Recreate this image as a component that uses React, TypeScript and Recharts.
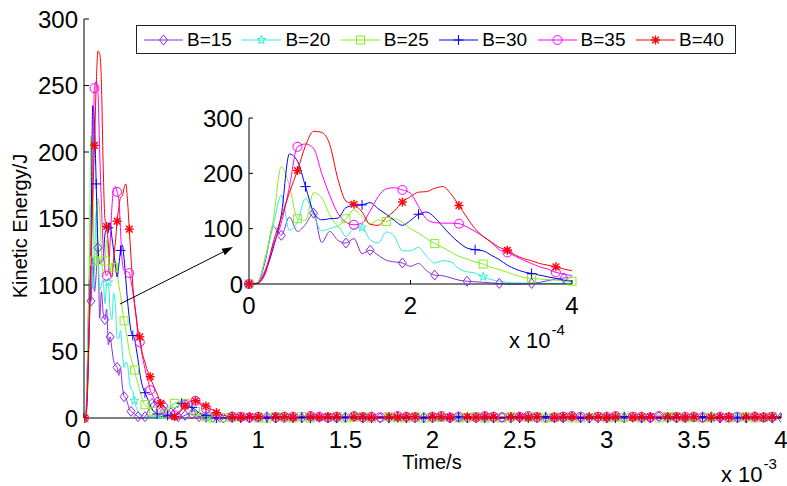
import React from "react";
import { LineChart, Line, XAxis, YAxis } from "recharts";

const FONT = "Arial, 'Liberation Sans', Helvetica, sans-serif";

// time grids in ms: fine head (inset range), medium middle, coarse tail
const grid = (start: number, step: number, n: number) =>
  Array.from({ length: n }, (_, i) => +(start + i * step).toFixed(3));
const T_HEAD = grid(0, 0.01, 41);
const T_MID = grid(0.42, 0.02, 20);
const T_TAIL = grid(0.85, 0.05, 64);

const X_TICKS = [0, 0.5, 1, 1.5, 2, 2.5, 3, 3.5, 4];
const Y_TICKS = [0, 50, 100, 150, 200, 250, 300];
const INSET_X_TICKS = [0, 0.2, 0.4];
const INSET_Y_TICKS = [0, 100, 200, 300];

// kinetic energy (J), head: 0..0.40 ms every 0.01 ms
const B15_HEAD = [
  0, 1, 40, 104, 88, 121, 95, 108, 128, 75,
  95, 79, 74, 82, 55, 61, 52, 43, 40, 38,
  32, 37, 24, 16, 15, 11, 7, 5, 4, 3,
  2, 1, 0, 0, 0, 1, 3, 6, 9, 11,
  12,
];
const B20_HEAD = [
  0, 2, 45, 105, 160, 97, 112, 155, 125, 96,
  100, 104, 86, 100, 102, 80, 74, 94, 86, 60,
  60, 66, 50, 38, 42, 40, 28, 22, 20, 13,
  8, 5, 3, 2, 2, 1, 1, 1, 1, 1,
  1,
];
const B25_HEAD = [
  0, 2, 48, 115, 212, 178, 118, 115, 165, 156,
  125, 106, 118, 134, 122, 108, 116, 113, 118, 112,
  100, 92, 82, 73, 66, 58, 50, 45, 40, 36,
  30, 26, 21, 16, 12, 10, 9, 8, 7, 6,
  5,
];
const B30_HEAD = [
  0, 1, 22, 65, 125, 235, 222, 176, 130, 116,
  118, 119, 138, 142, 143, 147, 136, 126, 115, 106,
  115, 126, 130, 120, 104, 88, 75, 65, 62, 60,
  52, 44, 34, 27, 22, 19, 16, 13, 10, 7,
  5,
];
const B35_HEAD = [
  0, 1, 25, 70, 110, 175, 248, 253, 245, 200,
  160, 128, 112, 107, 110, 132, 158, 172, 174, 170,
  164, 140, 117, 111, 110, 110, 109, 103, 95, 86,
  75, 62, 57, 50, 43, 37, 31, 27, 21, 18,
  15,
];
const B40_HEAD = [
  0, 1, 18, 75, 120, 165, 205, 250, 276, 274,
  252, 190, 150, 144, 130, 108, 106, 120, 132, 148,
  158, 166, 167, 173, 176, 163, 142, 120, 100, 86,
  76, 66, 61, 52, 46, 42, 37, 34, 31, 27,
  24,
];

// 0.42..0.80 ms every 0.02 ms
const B15_MID = [12, 11, 9, 6, 4, 2, 1, 1, 2, 3, 3, 2, 1, 1, 0.5, 0, 0.5, 1, 0.5, 0];
const B20_MID = [1, 2, 4, 7, 9, 11, 12, 12, 11, 9, 7, 5, 3, 2, 1, 1, 0.5, 0, 0.5, 0];
const B25_MID = [4, 3, 3, 5, 8, 11, 12, 12, 11, 9, 7, 5, 3, 2, 1, 0.5, 0, 0.5, 0, 0.5];
const B30_MID = [3, 1, 1, 2, 4, 7, 9, 11, 11, 10, 8, 6, 4, 3, 2, 1, 0.5, 0, 0.5, 0];
const B35_MID = [10, 6, 3, 1, 1, 2, 4, 7, 10, 12, 13, 13, 11, 9, 7, 5, 3, 2, 1, 0];
const B40_MID = [18, 11, 5, 2, 1, 1, 3, 6, 9, 11, 13, 13, 12, 10, 9, 7, 6, 4, 3, 2];

// 0.85..4.00 ms every 0.05 ms
const B15_TAIL = [
  1, 0.5, 0, 0.5, 1, 0, 0, 0.5,
  0, 1, 0.5, 0, 0, 0.5, 1, 0,
  0.5, 0, 0, 1, 0.5, 0, 0.5, 0,
  1, 0, 0.5, 0, 0, 1, 0, 0.5,
  0, 0.5, 1, 0, 0, 0.5, 0, 1,
  0.5, 0, 0, 0.5, 1, 0, 0.5, 0,
  0, 1, 0.5, 0, 0, 0.5, 0, 1,
  0, 0.5, 0, 0, 1, 0.5, 0, 0.5,
];
const B20_TAIL = [
  0, 0.5, 1, 0, 0.5, 0, 1, 0,
  0.5, 0, 0, 1, 0, 0.5, 0, 0.5,
  1, 0, 0.5, 0, 0, 0.5, 1, 0,
  0, 0.5, 0, 1, 0.5, 0, 0, 1,
  0.5, 0, 0.5, 0, 1, 0, 0, 0.5,
  0, 1, 0.5, 0, 0, 1, 0, 0.5,
  1, 0, 0, 0.5, 0.5, 0, 1, 0,
  0.5, 0, 1, 0.5, 0, 0, 0.5, 1,
];
const B25_TAIL = [
  0.5, 1, 0.5, 0, 0, 1, 0.5, 0,
  1, 0, 0, 0.5, 1, 0, 0.5, 1,
  0, 0.5, 1, 0, 0, 1, 0, 0.5,
  0.5, 1, 0, 0.5, 1, 0, 0.5, 0,
  1, 0, 0.5, 1, 0, 0.5, 1, 0,
  0, 0.5, 1, 0, 0.5, 0.5, 1, 0,
  0.5, 0, 1, 1, 0, 0.5, 0, 0.5,
  1, 0, 0.5, 1, 0, 0.5, 1, 0,
];
const B30_TAIL = [
  0, 0, 0.5, 1, 0, 0, 0.5, 0,
  0.5, 0, 1, 0, 0, 0.5, 0, 0,
  0, 1, 0, 0.5, 0, 0, 0, 0.5,
  0, 0, 1, 0, 0.5, 0, 0, 0,
  0.5, 0, 0, 0, 1, 0, 0.5, 0,
  0, 0, 0.5, 0, 0, 1, 0, 0,
  0.5, 0, 0, 0, 0.5, 0, 1, 0,
  0, 0.5, 0, 0, 0, 0.5, 0, 0,
];
const B35_TAIL = [
  1, 1, 0.5, 1, 1.5, 0.5, 1, 1,
  0.5, 1.5, 1, 0.5, 1, 1, 1.5, 0.5,
  1, 0.5, 1, 1.5, 1, 0.5, 1, 1,
  1.5, 0.5, 1, 1, 0.5, 1.5, 1, 0.5,
  1, 1, 1.5, 0.5, 1, 0.5, 1, 1.5,
  1, 0.5, 1, 1, 1.5, 0.5, 1, 1,
  0.5, 1.5, 1, 0.5, 1, 1, 0.5, 1.5,
  1, 0.5, 1, 1.5, 1, 0.5, 1, 1,
];
const B40_TAIL = [
  1, 0.5, 1, 1, 0.5, 1, 1, 0.5,
  1, 1, 0.5, 1, 1, 0.5, 1, 1,
  0.5, 1, 1, 0.5, 1, 1, 0.5, 1,
  1, 0.5, 1, 1, 0.5, 1, 1, 0.5,
  1, 1, 0.5, 1, 1, 0.5, 1, 1,
  0.5, 1, 1, 0.5, 1, 1, 0.5, 1,
  1, 0.5, 1, 1, 0.5, 1, 1, 0.5,
  1, 1, 0.5, 1, 1, 0.5, 1, 1,
];

const TIMES = [...T_HEAD, ...T_MID, ...T_TAIL];

type MarkerKind = "diamond" | "star" | "square" | "plus" | "circle" | "asterisk";
interface Series {
  key: string;
  name: string;
  color: string;
  marker: MarkerKind;
  spacing: number; // ms between markers (MATLAB-style)
  values: number[];
}

const SERIES: Series[] = [
  { key: "b15", name: "B=15", color: "#8B2BE2", marker: "diamond", spacing: 0.0386, values: [...B15_HEAD, ...B15_MID, ...B15_TAIL] },
  { key: "b20", name: "B=20", color: "#2CEFD8", marker: "star", spacing: 0.145, values: [...B20_HEAD, ...B20_MID, ...B20_TAIL] },
  { key: "b25", name: "B=25", color: "#88EE22", marker: "square", spacing: 0.0575, values: [...B25_HEAD, ...B25_MID, ...B25_TAIL] },
  { key: "b30", name: "B=30", color: "#0000FF", marker: "plus", spacing: 0.0693, values: [...B30_HEAD, ...B30_MID, ...B30_TAIL] },
  { key: "b35", name: "B=35", color: "#FF00FF", marker: "circle", spacing: 0.0638, values: [...B35_HEAD, ...B35_MID, ...B35_TAIL] },
  { key: "b40", name: "B=40", color: "#FF0000", marker: "asterisk", spacing: 0.064, values: [...B40_HEAD, ...B40_MID, ...B40_TAIL] },
];

const rows = TIMES.map((t, i) => {
  const r: Record<string, number> = { t };
  SERIES.forEach((s) => (r[s.key] = s.values[i]));
  return r;
});
const insetRows = rows.filter((r) => r.t <= 0.4 + 1e-9);

// indices of the grid points nearest to every multiple of the marker spacing
const markIndex = (spacing: number) => {
  const set = new Set<number>();
  for (let k = 0; k * spacing <= 4.0001; k++) {
    const target = k * spacing;
    let best = 0;
    TIMES.forEach((t, i) => {
      if (Math.abs(t - target) < Math.abs(TIMES[best] - target)) best = i;
    });
    set.add(best);
  }
  return set;
};
const MARKS: Record<string, Set<number>> = {};
SERIES.forEach((s) => (MARKS[s.key] = markIndex(s.spacing)));

const Marker = ({ kind, cx, cy, color }: { kind: MarkerKind; cx: number; cy: number; color: string }) => {
  const p = { stroke: color, strokeWidth: 1, fill: "none" };
  switch (kind) {
    case "diamond":
      return <polygon {...p} points={`${cx},${cy - 5} ${cx + 4},${cy} ${cx},${cy + 5} ${cx - 4},${cy}`} />;
    case "square":
      return <rect {...p} x={cx - 4} y={cy - 4} width={8} height={8} />;
    case "circle":
      return <circle {...p} cx={cx} cy={cy} r={4.5} />;
    case "plus":
      return (
        <g {...p}>
          <line x1={cx - 5} y1={cy} x2={cx + 5} y2={cy} />
          <line x1={cx} y1={cy - 5} x2={cx} y2={cy + 5} />
        </g>
      );
    case "asterisk":
      return (
        <g {...p} strokeWidth={1.4}>
          <line x1={cx - 4.5} y1={cy} x2={cx + 4.5} y2={cy} />
          <line x1={cx} y1={cy - 4.5} x2={cx} y2={cy + 4.5} />
          <line x1={cx - 3.3} y1={cy - 3.3} x2={cx + 3.3} y2={cy + 3.3} />
          <line x1={cx - 3.3} y1={cy + 3.3} x2={cx + 3.3} y2={cy - 3.3} />
        </g>
      );
    case "star": {
      const pts: string[] = [];
      for (let i = 0; i < 10; i++) {
        const r = i % 2 === 0 ? 4.5 : 1.9;
        const a = -Math.PI / 2 + (i * Math.PI) / 5;
        pts.push(`${cx + r * Math.cos(a)},${cy + r * Math.sin(a)}`);
      }
      return <polygon {...p} points={pts.join(" ")} />;
    }
  }
  return null;
};

const makeDot = (s: Series) => (props: any) => {
  const { cx, cy, index } = props;
  if (cx == null || cy == null || !MARKS[s.key].has(index)) return <g key={`${s.key}-n${index}`} />;
  return (
    <g key={`${s.key}-m${index}`}>
      <Marker kind={s.marker} cx={cx} cy={cy} color={s.color} />
    </g>
  );
};

const tickStyle = { fontSize: 24, fill: "#000", fontFamily: FONT };

const renderLines = () =>
  SERIES.map((s) => (
    <Line
      key={s.key}
      type="monotone"
      dataKey={s.key}
      stroke={s.color}
      strokeWidth={1}
      dot={makeDot(s)}
      activeDot={false}
      isAnimationActive={false}
    />
  ));

const ARROW = { x1: 120, y1: 304, x2: 233, y2: 247 };

const Arrow = () => {
  const { x1, y1, x2, y2 } = ARROW;
  const len = Math.hypot(x2 - x1, y2 - y1);
  const ux = (x2 - x1) / len;
  const uy = (y2 - y1) / len;
  const bx = x2 - ux * 11;
  const by = y2 - uy * 11;
  const px = -uy * 3.6;
  const py = ux * 3.6;
  return (
    <svg width={787} height={486} style={{ position: "absolute", left: 0, top: 0, pointerEvents: "none" }}>
      <line x1={x1} y1={y1} x2={bx} y2={by} stroke="#000" strokeWidth={1} />
      <polygon points={`${x2},${y2} ${bx + px},${by + py} ${bx - px},${by - py}`} fill="#000" />
    </svg>
  );
};

const Legend = () => (
  <div
    style={{
      position: "absolute",
      left: 136,
      top: 25,
      width: 600,
      height: 29,
      border: "1.5px solid #222",
      background: "#fff",
      boxSizing: "border-box",
    }}
  >
    {SERIES.map((s, i) => {
      const x0 = 7 + i * 98.4;
      return (
        <div key={s.key} style={{ position: "absolute", left: x0, top: 0, height: 27, display: "flex", alignItems: "center" }}>
          <svg width={40} height={20}>
            <line x1={0} y1={10} x2={39} y2={10} stroke={s.color} strokeWidth={1} />
            <Marker kind={s.marker} cx={19.5} cy={10} color={s.color} />
          </svg>
          <span style={{ marginLeft: 3, fontSize: 19, fontFamily: FONT, color: "#000", lineHeight: "19px" }}>{s.name}</span>
        </div>
      );
    })}
  </div>
);

const Exponent = ({ left, top, exp }: { left: number; top: number; exp: string }) => (
  <div style={{ position: "absolute", left, top, fontFamily: FONT, color: "#000", whiteSpace: "nowrap" }}>
    <span style={{ fontSize: 22 }}>x 10</span>
    <span style={{ fontSize: 15, position: "relative", top: -13, marginLeft: 1 }}>{exp}</span>
  </div>
);

export default function App() {
  return (
    <div style={{ position: "absolute", left: 0, top: 0, width: 787, height: 486, background: "#fff", overflow: "hidden" }}>
      <LineChart width={787} height={486} data={rows} margin={{ top: 19, right: 6, bottom: 38, left: 0 }}>
        <XAxis
          type="number"
          dataKey="t"
          domain={[0, 4]}
          ticks={X_TICKS}
          interval={0}
          height={30}
          tick={tickStyle}
          tickSize={-5}
          tickMargin={18}
          stroke="#000"
          allowDataOverflow
        />
        <YAxis
          type="number"
          domain={[0, 300]}
          ticks={Y_TICKS}
          interval={0}
          width={84}
          tick={tickStyle}
          tickSize={-5}
          tickMargin={11}
          stroke="#000"
        />
        {renderLines()}
      </LineChart>

      <div style={{ position: "absolute", left: 190, top: 100 }}>
        <LineChart width={400} height={230} data={insetRows} margin={{ top: 18, right: 18, bottom: 16, left: 0 }}>
          <XAxis
            type="number"
            dataKey="t"
            domain={[0, 0.4]}
            ticks={INSET_X_TICKS}
            interval={0}
            height={30}
            tick={tickStyle}
            tickFormatter={(v: number) => String(Math.round(v * 10))}
            tickSize={-4}
            tickMargin={17}
            stroke="#000"
          />
          <YAxis
            type="number"
            domain={[0, 300]}
            ticks={INSET_Y_TICKS}
            interval={0}
            width={59}
            tick={tickStyle}
            tickSize={-4}
            tickMargin={10}
            stroke="#000"
          />
          {renderLines()}
        </LineChart>
      </div>

      <Arrow />
      <Legend />

      <div
        style={{
          position: "absolute",
          left: 20,
          top: 226,
          transform: "translate(-50%, -50%) rotate(-90deg)",
          fontSize: 20,
          fontFamily: FONT,
          color: "#000",
          whiteSpace: "nowrap",
        }}
      >
        Kinetic Energy/J
      </div>
      <div
        style={{
          position: "absolute",
          left: 432,
          top: 451,
          transform: "translateX(-50%)",
          fontSize: 20,
          fontFamily: FONT,
          color: "#000",
          whiteSpace: "nowrap",
        }}
      >
        Time/s
      </div>
      <Exponent left={721} top={462} exp="-3" />
      <Exponent left={509} top={328} exp="-4" />
    </div>
  );
}
